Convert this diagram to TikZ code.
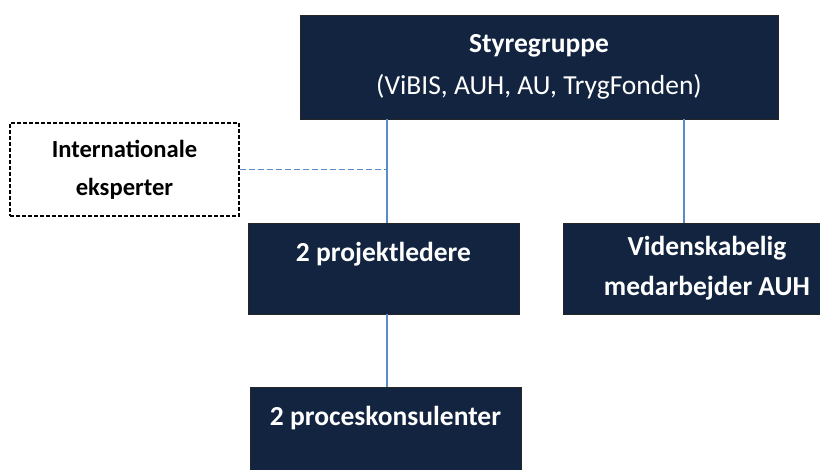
\documentclass[tikz,border=0pt]{standalone}
\usepackage{fontspec}
\setmainfont{Carlito}
\definecolor{navy}{HTML}{12243F}
\definecolor{linkblue}{HTML}{5B8BC9}
\begin{document}
\begin{tikzpicture}[x=1pt,y=-1pt,
  orgbox/.style={draw=black!85,line width=0.8pt,fill=navy,text=white,inner sep=0pt,align=center,
    font=\fontsize{27.5}{42}\selectfont},
  extbox/.style={draw=black,line width=1.1pt,dash pattern=on 4pt off 2pt,fill=white,inner sep=0pt,align=center,
    font=\fontsize{24.6}{38}\selectfont\bfseries},
  link/.style={draw=linkblue,line width=1.6pt},
  dlink/.style={draw=linkblue,line width=1.8pt,dash pattern=on 6pt off 3pt}]
\useasboundingbox (0,0) rectangle (820,470);
\clip (0,0) rectangle (820,470);
\fill[white] (0,0) rectangle (820,470);
\coordinate (xa) at (387,0);
\coordinate (xb) at (684,0);
\node[orgbox,minimum width=478pt,minimum height=104pt] (styr) at (539,67)
  {\textbf{Styregruppe}\\(ViBIS, AUH, AU, TrygFonden)};
\node[extbox,minimum width=229pt,minimum height=93pt] (intl) at (124.5,169.5)
  {Internationale\\eksperter};
\node[orgbox,minimum width=271pt,minimum height=91pt] (proj) at (383.5,268.5)
  {\textbf{2 projektledere}\\[-8pt]\mbox{}};
\node[orgbox,minimum width=288pt,minimum height=91pt] (vid) at (707,268.5)
  {\textbf{Videnskabelig}\\[-2pt]\textbf{medarbejder AUH}};
\node[orgbox,minimum width=271pt,minimum height=91pt] (proc) at (385.5,432.5)
  {\textbf{2 proceskonsulenter}\\[-8pt]\mbox{}};
\draw[link] (styr.south -| xa) -- (proj.north -| xa);
\draw[link] (styr.south -| xb) -- (vid.north -| xb);
\draw[link] (proj.south -| xa) -- (proc.north -| xa);
\draw[dlink] (intl.east) -- (intl.east -| xa);
\end{tikzpicture}
\end{document}
